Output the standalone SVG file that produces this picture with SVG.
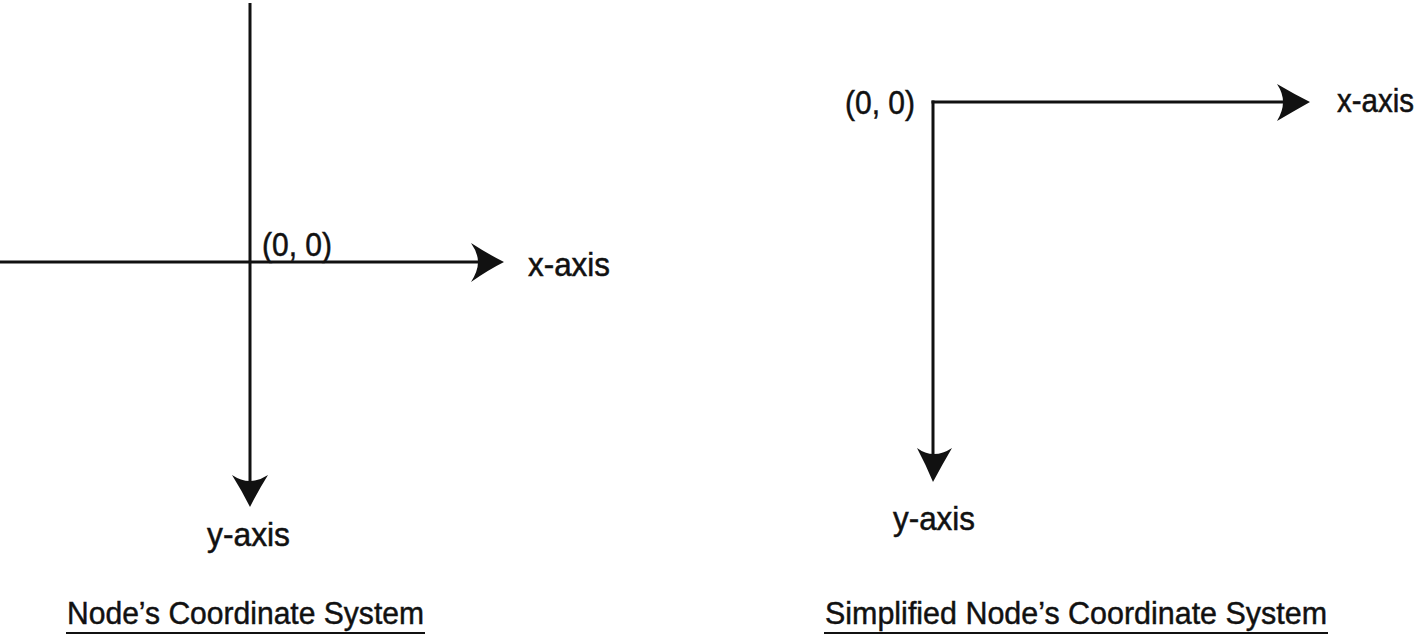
<svg xmlns="http://www.w3.org/2000/svg" width="1421" height="638" viewBox="0 0 1421 638">
<defs>
<style>
.ax{stroke:#111;stroke-width:3;fill:none}
.hd{fill:#111}
.t{font-family:"Liberation Sans",Arial,sans-serif;font-size:33px;fill:#111;stroke:#111;stroke-width:0.5}
.h{font-family:"Liberation Sans",Arial,sans-serif;font-size:31px;fill:#111;stroke:#111;stroke-width:0.45}
.u{stroke:#111;stroke-width:2}
</style>
</defs>
<rect width="1421" height="638" fill="#fff"/>
<g id="connectors">
<line class="ax" x1="0" y1="262" x2="485" y2="262"/>
<path class="hd" d="M504,262 Q488,254 471,243 Q478,253 478,262 Q478,271 471,282 Q488,270 504,262 Z"/>
<line class="ax" x1="250" y1="3" x2="250" y2="488"/>
<path class="hd" d="M250,507 Q242,491 232,475 Q241,481 250,481 Q259,481 268,475 Q258,491 250,507 Z"/>
<line class="ax" x1="931.5" y1="102" x2="1290" y2="102"/>
<path class="hd" d="M1310,102 Q1294,94 1277,84 Q1283,93 1283,102 Q1283,111 1277,121 Q1294,111 1310,102 Z"/>
<line class="ax" x1="933" y1="100.5" x2="933" y2="462"/>
<path class="hd" d="M933,482 Q926,465 917,448 Q925,454 934,454 Q943,454 952,448 Q942,465 933,482 Z"/>
</g>
<g id="left-system">
<text class="t" x="262" y="256" textLength="70" lengthAdjust="spacingAndGlyphs">(0, 0)</text>
<text class="t" x="528" y="276" textLength="82" lengthAdjust="spacingAndGlyphs">x-axis</text>
<text class="t" x="207" y="546" textLength="83" lengthAdjust="spacingAndGlyphs">y-axis</text>
<text class="h" x="67" y="624" textLength="357" lengthAdjust="spacingAndGlyphs">Node’s Coordinate System</text>
<line class="u" x1="66" y1="633" x2="425" y2="633"/>
</g>
<g id="right-system">
<text class="t" x="845" y="114" textLength="70" lengthAdjust="spacingAndGlyphs">(0, 0)</text>
<text class="t" x="1337" y="112" textLength="77" lengthAdjust="spacingAndGlyphs">x-axis</text>
<text class="t" x="893" y="530" textLength="82" lengthAdjust="spacingAndGlyphs">y-axis</text>
<text class="h" x="825" y="624" textLength="502" lengthAdjust="spacingAndGlyphs">Simplified Node’s Coordinate System</text>
<line class="u" x1="824" y1="633" x2="1328" y2="633"/>
</g>
</svg>
